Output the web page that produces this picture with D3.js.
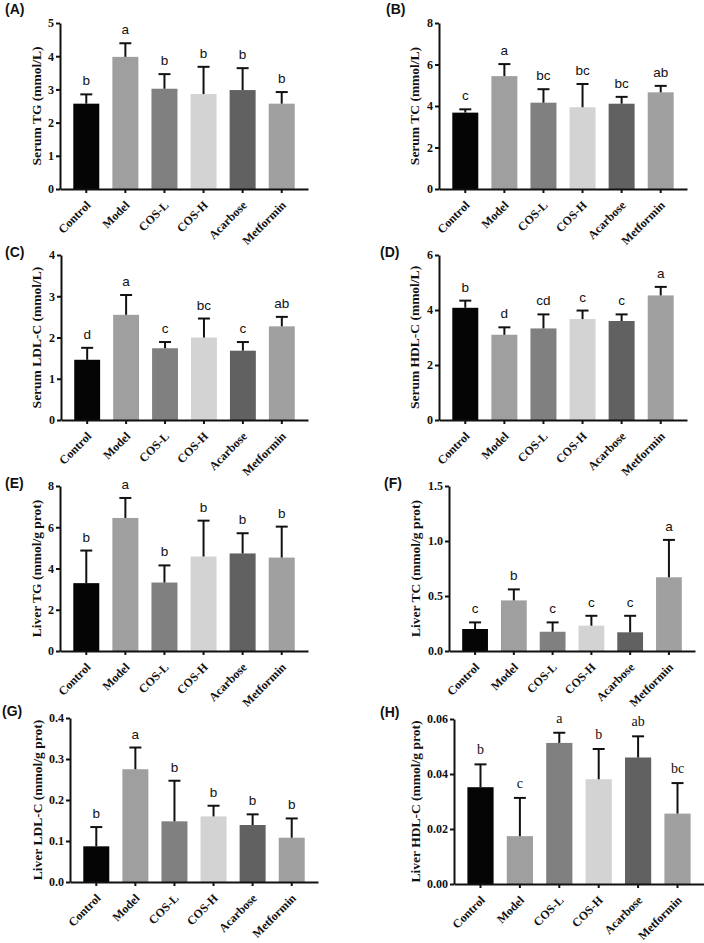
<!DOCTYPE html>
<html>
<head>
<meta charset="utf-8">
<script src="https://cdn.jsdelivr.net/npm/d3@7/dist/d3.min.js"></script>
<style>
  body { margin: 0; background: #fff; }
  svg { display: block; }
</style>
</head>
<body>
<svg id="chart" width="704" height="943"></svg>
<script>
// ---------------- DATA ----------------
const categories = ["Control", "Model", "COS-L", "COS-H", "Acarbose", "Metformin"];
const barColors = ["#050505", "#9f9f9f", "#808080", "#d3d3d3", "#616161", "#a0a0a0"];

const panelLabels = ["(A)", "(B)", "(C)", "(D)", "(E)", "(F)", "(G)", "(H)"];
const yTitles = [
  "Serum TG (mmol/L)", "Serum TC (mmol/L)",
  "Serum LDL-C (mmol/L)", "Serum HDL-C (mmol/L)",
  "Liver TG (mmol/g prot)", "Liver TC (mmol/g prot)",
  "Liver LDL-C (mmol/g prot)", "Liver HDL-C (mmol/g prot)"
];

const serumTG      = [2.57, 3.98, 3.02, 2.86, 2.98, 2.57];
const serumTG_sd   = [0.28, 0.41, 0.44, 0.82, 0.66, 0.35];
const serumTG_sig  = ["b", "a", "b", "b", "b", "b"];

const serumTC      = [3.68, 5.44, 4.16, 3.94, 4.11, 4.66];
const serumTC_sd   = [0.16, 0.58, 0.65, 1.12, 0.33, 0.31];
const serumTC_sig  = ["c", "a", "bc", "bc", "bc", "ab"];

const serumLDL     = [1.46, 2.55, 1.74, 2.00, 1.68, 2.27];
const serumLDL_sd  = [0.29, 0.48, 0.15, 0.46, 0.21, 0.23];
const serumLDL_sig = ["d", "a", "c", "bc", "c", "ab"];

const serumHDL     = [4.08, 3.10, 3.33, 3.67, 3.60, 4.53];
const serumHDL_sd  = [0.26, 0.27, 0.51, 0.31, 0.24, 0.31];
const serumHDL_sig = ["b", "d", "cd", "c", "c", "a"];

const liverTG      = [3.29, 6.45, 3.32, 4.58, 4.73, 4.53];
const liverTG_sd   = [1.58, 0.97, 0.83, 1.74, 0.98, 1.50];
const liverTG_sig  = ["b", "a", "b", "b", "b", "b"];

const liverTC      = [0.20, 0.46, 0.175, 0.23, 0.17, 0.67];
const liverTC_sd   = [0.06, 0.10, 0.085, 0.09, 0.15, 0.34];
const liverTC_sig  = ["c", "b", "c", "c", "c", "a"];

const liverLDL     = [0.087, 0.275, 0.148, 0.160, 0.139, 0.108];
const liverLDL_sd  = [0.047, 0.053, 0.099, 0.026, 0.026, 0.047];
const liverLDL_sig = ["b", "a", "b", "b", "b", "b"];

const liverHDL     = [0.0352, 0.0174, 0.0513, 0.0381, 0.0460, 0.0256];
const liverHDL_sd  = [0.0083, 0.0139, 0.0037, 0.0110, 0.0077, 0.0111];
const liverHDL_sig = ["b", "c", "a", "b", "ab", "bc"];

const yTicks = [
  [0, 1, 2, 3, 4, 5],
  [0, 2, 4, 6, 8],
  [0, 1, 2, 3, 4],
  [0, 2, 4, 6],
  [0, 2, 4, 6, 8],
  [0, 0.5, 1.0, 1.5],
  [0, 0.1, 0.2, 0.3, 0.4],
  [0, 0.02, 0.04, 0.06]
];
const yFormats = ["d", "d", "d", "d", "d", ".1f", ".1f", ".2f"];

const means = [serumTG, serumTC, serumLDL, serumHDL, liverTG, liverTC, liverLDL, liverHDL];
const sds   = [serumTG_sd, serumTC_sd, serumLDL_sd, serumHDL_sd, liverTG_sd, liverTC_sd, liverLDL_sd, liverHDL_sd];
const sigs  = [serumTG_sig, serumTC_sig, serumLDL_sig, serumHDL_sig, liverTG_sig, liverTC_sig, liverLDL_sig, liverHDL_sig];

// ---------------- LAYOUT ----------------
// [axisX, yTop, yBottom, xEnd, titleX, labelX, labelY]
const layout = [
  [60, 23, 189, 308, 36, 5, 14],
  [439, 23, 189, 687, 414, 386, 14],
  [61, 255, 420, 308, 36, 5, 257],
  [439, 255, 420, 687, 414, 380, 257],
  [60, 486, 651, 308, 36, 5, 488],
  [449, 486, 651, 695, 415, 384, 488],
  [70, 718, 882, 318, 37, 2, 716],
  [454, 719, 884, 704, 415, 380, 717]
];

const serif = "'Liberation Serif', 'Times New Roman', serif";
const sans = "'Liberation Sans', Arial, sans-serif";

const svg = d3.select("#chart");
svg.append("rect").attr("width", 704).attr("height", 943).attr("fill", "#fff");

means.forEach((vals, p) => {
  const [ax, yTop, yBot, xEnd, titleX, labX, labY] = layout[p];
  const ticks = yTicks[p];
  const g = svg.append("g");

  const x = d3.scaleBand().domain(categories).range([ax, xEnd])
    .paddingInner(0.335).paddingOuter(0.34);
  const y = d3.scaleLinear().domain([0, ticks[ticks.length - 1]]).range([yBot, yTop]);

  // bars
  g.selectAll("rect.bar").data(categories).join("rect")
    .attr("x", d => x(d))
    .attr("width", x.bandwidth())
    .attr("y", (d, i) => y(vals[i]))
    .attr("height", (d, i) => yBot - y(vals[i]))
    .attr("fill", (d, i) => barColors[i]);

  // error bars (upper only)
  const cap = 6;
  categories.forEach((c, i) => {
    const cx = x(c) + x.bandwidth() / 2;
    const top = y(vals[i] + sds[p][i]);
    g.append("line").attr("x1", cx).attr("x2", cx)
      .attr("y1", y(vals[i])).attr("y2", top)
      .attr("stroke", "#111").attr("stroke-width", 2);
    g.append("line").attr("x1", cx - cap).attr("x2", cx + cap)
      .attr("y1", top).attr("y2", top)
      .attr("stroke", "#111").attr("stroke-width", 2);
    // significance letter
    const isSerif = p === 7;
    g.append("text")
      .attr("x", cx).attr("y", top - (isSerif ? 10 : 9))
      .attr("text-anchor", "middle")
      .attr("font-family", isSerif ? serif : sans)
      .attr("font-size", isSerif ? 14 : 13.5)
      .attr("fill", "#111")
      .text(sigs[p][i]);
  });

  // y axis
  const yAxis = d3.axisLeft(y).tickValues(ticks).tickSize(4).tickSizeOuter(0)
    .tickFormat(d3.format(yFormats[p]));
  const ya = g.append("g").attr("transform", `translate(${ax},0)`).call(yAxis);
  ya.select(".domain").attr("stroke", "#111").attr("stroke-width", 2);
  ya.selectAll(".tick line").attr("stroke", "#111").attr("stroke-width", 2);
  ya.selectAll(".tick text")
    .attr("font-family", serif).attr("font-weight", "bold")
    .attr("font-size", 12).attr("fill", "#111").attr("x", -6);

  // x axis
  const xAxis = d3.axisBottom(x).tickSize(4).tickSizeOuter(0);
  const xa = g.append("g").attr("transform", `translate(0,${yBot})`).call(xAxis);
  xa.select(".domain").attr("stroke", "#111").attr("stroke-width", 2);
  xa.selectAll(".tick line").attr("stroke", "#111").attr("stroke-width", 2);
  xa.selectAll(".tick text")
    .attr("font-family", serif).attr("font-weight", "bold")
    .attr("font-size", 12).attr("fill", "#111")
    .attr("text-anchor", "end")
    .attr("y", 0).attr("dy", 0)
    .attr("transform", "translate(5,17) rotate(-45)");

  // y title
  g.append("text")
    .attr("transform", `translate(${titleX},${(yTop + yBot) / 2}) rotate(-90)`)
    .attr("text-anchor", "middle")
    .attr("dy", "0.35em")
    .attr("font-family", serif).attr("font-weight", "bold")
    .attr("font-size", 13.5).attr("fill", "#111")
    .text(yTitles[p]);

  // panel label
  g.append("text")
    .attr("x", labX).attr("y", labY)
    .attr("font-family", sans).attr("font-weight", "bold")
    .attr("font-size", 14).attr("fill", "#111")
    .text(panelLabels[p]);
});
</script>
</body>
</html>
